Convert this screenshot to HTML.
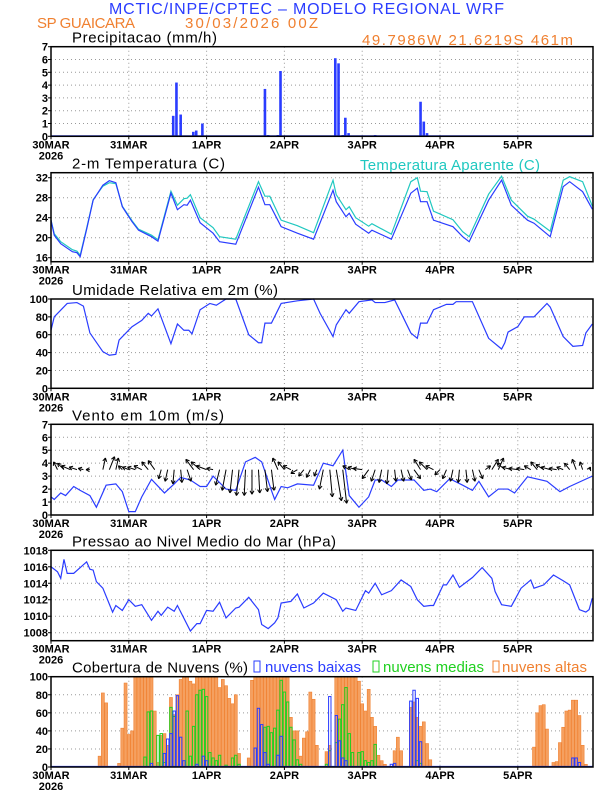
<!DOCTYPE html>
<html><head><meta charset="utf-8">
<style>
body{margin:0;background:#fff;}
svg{display:block;font-family:"Liberation Sans",sans-serif;}
.tk{font-family:"Liberation Sans Narrow","Liberation Sans",sans-serif;font-size:11px;fill:#000;font-weight:bold;}
.tt{font-size:15px;fill:#000;}
</style></head>
<body>
<svg id="chart" width="612" height="792" viewBox="0 0 612 792">
<text x="109" y="14" textLength="395" lengthAdjust="spacing" font-size="16" fill="#2a3cff">MCTIC/INPE/CPTEC – MODELO REGIONAL WRF</text>
<text x="37" y="28" textLength="98" lengthAdjust="spacing" font-size="15" fill="#f08030">SP GUAICARA</text>
<text x="185" y="28" textLength="133" lengthAdjust="spacing" font-size="15" fill="#f08030">30/03/2026 00Z</text>
<text x="362" y="45" textLength="211" lengthAdjust="spacing" font-size="15" fill="#f08030">49.7986W 21.6219S 461m</text>
<text x="360" y="170" textLength="180" lengthAdjust="spacing" font-size="15" fill="#20c8c0">Temperatura Aparente (C)</text>
</svg>
<script>
// ---- data ----
const dayLabels=["30MAR","31MAR","1APR","2APR","3APR","4APR","5APR"];
const precipHours=[37.7,38.7,40,43.9,44.8,46.7,66,67,70,70.8,87.7,88.7,90,90.8,91.8,100,114,115,116];
const precipVals=[1.6,4.2,1.7,0.35,0.45,1.0,3.7,0.1,0.1,5.1,6.1,5.7,0.1,1.45,0.25,0.1,2.7,1.15,0.25];
const tempHours=[0,1,3,6.6,8,9,11,13,16,18,20,22,25,27,31,33,37,39,41,42,43,46,50,52,57,64,66,67.5,71,76,81,87,88,91,92,94,98,99,105,111,113,114,116,118,124,127,129,135,139,142,147,149,154,158,160,164,167];
const tempVals=[23.5,20.5,18.8,17.2,17,16.2,21.7,27.5,30.5,31.4,31,26.2,23.2,21.5,20.2,19.3,28.9,25.6,26.6,26.5,27.5,23,20.9,19.2,18.7,30.1,26.6,26.6,22.2,20.9,19.7,29.5,27.2,24.2,24.9,22.7,20.9,21.5,19.7,28.9,29.9,27.2,27.2,23.5,22.2,20.2,19.2,27.5,31.5,26.5,23.5,22.9,20.2,30.2,31.2,29.2,25.7];
const tappVals=[23.5,20.8,19.2,17.6,17.3,16.5,21.9,27.6,30.3,31,30.8,26.3,23.4,21.7,20.5,19.6,29.3,26.5,27.8,27.9,28.6,24,22,20.2,19.7,31.2,28.3,28.3,23.5,22.4,21,31.5,28.6,25.6,26.2,24,22.3,22.8,20.7,31.2,32,29.3,29.2,25.3,23.6,21.2,20.2,28.7,32.3,27.5,24.3,23.7,21.3,31.5,32.2,31.2,26.3];
const rhHours=[0,1,5,8,10,12,16,18,20,21,25,28,30,31,33,37,39,41,42.5,43.5,46,49,51,54,57,61,64,65,66,68,71,76,81,83,87,88,91,92,95,99,100,103,106,111,113,114,116,118,122,124,125,130,135,139,140,141,144,146,149,153,154,158,161,164,165,167];
const rhVals=[65,80,95,96,92,62,41,37,38,54,69,76,84,81,89,50,72,65,65,61,88,95,93,100,100,60,51,51,73,73,95,98,100,84,58,71,88,84,97,99,96,96,99,62,56,73,73,88,94,94,97,97,56,44,51,63,69,80,80,95,91,58,47,48,62,72];
const windHours=[0,1,3,4.5,7,9,12,14,17,20,22,24,26,28,31,35,38,40,43,46,48,50,54,57,60,63,65,68,69,71,73,76,81,84,87,90,92,95,98,100,102,105,107,112,115,117,119,123,127,130,132,135,138,141,143,147,153,157,160,167];
const windVals=[1.4,1.2,1.7,1.5,2.2,1.9,1.5,0.6,2.3,2.4,1.8,0.26,0.26,1.4,2.75,1.7,2.4,2.9,2.7,2.2,2.2,3,2,1.9,4.1,4.45,4.1,1.9,1.2,2.2,2.1,2.4,2.3,4,3.8,5,1.5,0.6,1.4,2.7,2.7,2.2,2.7,2.7,1.9,2,1.8,2.8,2.3,1.9,2.6,1.4,2,2,1.7,2.95,2.6,1.8,2.2,3];
const arrowHours=[2,4,6,8,10,12,16,18,20,22,24,26,28,30,32,34,36,38,40,42,44,46,48,50,52,54,56,58,60,62,64,66,68,70,72,74,76,78,80,82,84,86,88,90,92,94,96,98,100,102,104,106,108,110,112,114,116,118,120,122,124,126,128,130,132,134,136,138,140,142,144,146,148,150,152,154,156,158,160,162,164,166];
const arrowU=[-0.3,-0.5,-0.7,-0.6,-0.4,-0.3,0.2,0.4,0.2,-0.3,-0.5,-0.6,-0.6,-0.5,-0.5,-0.2,-0.2,-0.1,0.1,0.3,-0.6,-0.7,-0.8,-0.5,-0.3,-0.3,-0.2,-0.2,-0.1,0,0.1,0.2,0.2,-0.4,-0.5,-0.6,-0.5,-0.4,-0.3,-0.2,-0.3,0.2,0.4,0.3,-0.5,-0.6,-0.7,-0.5,-0.3,-0.2,-0.1,0.1,0.2,0.3,0.5,-0.5,-0.6,-0.6,-0.4,-0.3,-0.2,-0.1,0.1,0.2,0.3,0.4,0.5,0.4,-0.6,-0.7,-0.7,-0.6,-0.5,-0.5,-0.6,-0.7,-0.6,-0.5,-0.4,-0.3,-0.2,0.1];
const arrowV=[0.6,0.5,0.3,0.2,0.1,0.0,0.9,1.0,0.9,0.3,0.2,0.2,0.3,0.6,0.7,-0.7,-0.9,-1.1,-1.0,-0.9,0.8,0.6,0.3,0.1,-1.2,-1.6,-1.8,-2.0,-2.0,-1.9,-1.8,-1.7,-1.6,0.9,0.6,0.3,-0.3,-0.5,-0.6,-0.5,-1.5,-2.1,-2.4,-2.6,0.3,0.2,0.1,-0.7,-0.9,-1.0,-1.1,-0.9,-0.9,-0.8,-0.7,0.8,0.6,0.3,-0.4,-0.7,-0.9,-1.0,-1.0,-0.9,-0.7,0.3,0.8,0.9,0.5,0.2,0.1,0.1,0.3,0.6,0.4,0.2,0.1,0.2,0.5,0.8,0.6,0.2];
const presHours=[0,2,3,4,5,7,11,12,13,14,16,19,20,22,24,26,28,31,33,34,36,38,39,43,45,46,48,50,52,54,57,58,61,64,65,67,69,70,71,74,76,78,81,84,88,90,91,94,97,98,100,102,105,108,111,113,115,117,118,121,122,124,126,130,133,136,137,139,142,145,148,149,152,155,158,160,163,165,166,167];
const presVals=[1016,1015.4,1014.6,1016.9,1015.2,1015.2,1016.6,1015.7,1015.6,1014.2,1013.4,1010.5,1011.3,1010.7,1012,1011.2,1011.4,1009.5,1010.6,1010.1,1011.1,1010.6,1011.3,1008.2,1009.1,1009.1,1010.7,1010.6,1011.7,1009.8,1011,1011.1,1012.3,1010.8,1009,1008.5,1009.2,1009.8,1011.6,1011.8,1012.7,1011,1011.6,1012.8,1012,1010.6,1011,1010.7,1013.1,1012.8,1014,1012.6,1013.1,1014.4,1013.6,1012,1011.2,1011.3,1011.3,1013.8,1013.8,1015,1013.5,1014.7,1015.9,1014.6,1013,1011.4,1011.2,1013.4,1014.4,1013.4,1013.8,1015,1014.3,1013.8,1010.8,1010.5,1010.8,1012.2];
const highHours=[15,16,17,21,22,23,24,25,26,27,28,29,30,31,32,33,34,35,36,37,38,39,40,41,42,43,44,45,46,47,48,49,50,51,52,53,54,55,56,57,58,61,62,63,64,65,66,67,68,69,70,71,72,73,74,75,76,77,78,79,80,81,82,85,86,88,89,90,91,92,93,94,95,96,97,98,99,100,101,102,103,106,107,108,111,112,113,114,115,116,117,149,150,151,152,153,155,156,157,158,159,160,161,162,163,164,165];
const highVals=[12,82,71,4,43,93,36,40,100,100,100,100,100,100,62,5,35,37,24,77,58,80,97,100,100,95,92,100,100,100,100,100,100,100,88,97,90,76,70,80,15,10,96,100,100,100,100,100,100,100,100,100,100,100,55,40,40,12,32,39,83,75,24,17,24,100,100,100,100,100,100,100,95,70,62,86,55,45,13,7,3,18,33,18,66,72,55,45,50,26,8,22,60,68,69,42,5,6,27,44,62,63,74,74,57,24,3];
const lowHours=[31,35,36,37,38,39,40,41,45,47,48,63,64,65,66,67,70,71,86,88,89,90,91,105,106,111,112,113,114,161,162,163];
const lowVals=[4,15,31,37,62,79,33,7,3,12,7,21,65,47,16,3,13,34,78,57,29,10,7,3,4,73,85,76,28,10,10,5];
const midHours=[29,30,31,33,34,35,37,38,42,43,44,45,46,47,48,49,50,51,52,54,56,57,58,66,67,68,69,70,71,72,73,74,75,76,77,85,86,88,89,90,91,92,93,95,96,97,98,99,100,113,114];
const midVals=[11,61,62,35,37,5,66,56,62,12,45,80,85,86,78,16,10,7,13,2,10,13,3,44,45,38,43,63,96,83,72,44,30,8,3,3,18,27,53,69,88,37,16,16,17,7,5,7,25,7,4];
// ---- layout ----
const X0=51,X1=593,HMAX=167.2;
const xs=h=>X0+(X1-X0)*h/HMAX;
const svg=document.getElementById('chart');
const NS='http://www.w3.org/2000/svg';
function mk(tag,attrs,parent){const e=document.createElementNS(NS,tag);for(const k in attrs)e.setAttribute(k,attrs[k]);(parent||svg).appendChild(e);return e;}
function panel(id,top,bot,vmin,vmax,ticks,title,tlen){
  const g=mk('g',{});
  
  
  const ys=v=>bot-(v-vmin)/(vmax-vmin)*(bot-top);
  for(let d=1;d<7;d++){const gl=mk('line',{x1:xs(d*24),x2:xs(d*24),y1:top,y2:bot,stroke:'#999','stroke-dasharray':'1,3'},g);
    }
  ticks.forEach(t=>{
    if(t>vmin&&t<vmax){const gl=mk('line',{x1:X0,x2:X1,y1:ys(t),y2:ys(t),stroke:'#999','stroke-dasharray':'1,3'},g);
      }
    const tl=mk('text',{x:X0-3,y:ys(t)+4,'text-anchor':'end',class:'tk'},g);tl.textContent=t;
    
    mk('line',{x1:X0-3,x2:X0,y1:ys(t),y2:ys(t),stroke:'#000'},g);
  });
  dayLabels.forEach((l,i)=>{const t=mk('text',{x:xs(i*24),y:bot+12,'text-anchor':'middle',class:'tk'},g);t.textContent=l;
    
    mk('line',{x1:xs(i*24),x2:xs(i*24),y1:bot,y2:bot+3,stroke:'#000'},g);});
  const yr=mk('text',{x:xs(0),y:bot+23,'text-anchor':'middle',class:'tk'},g);yr.textContent='2026';
  
  const tt=mk('text',{x:72,y:top-4,class:'tt',textLength:tlen,lengthAdjust:'spacing'},g);tt.textContent=title;
  
  return {g,ys,finish:()=>{const b=mk('rect',{x:X0,y:top,width:X1-X0,height:bot-top,fill:'none',stroke:'#000','stroke-width':1.5},g);
    }};
}
function line(p,hs,vs,color,name){const pl=mk('polyline',{points:hs.map((h,i)=>xs(h)+','+p.ys(vs[i])).join(' '),fill:'none',stroke:color,'stroke-width':1.2},p.g);
  }
// precip
let p=panel('precip',46.7,136.3,0,7,[0,1,2,3,4,5,6,7],'Precipitacao (mm/h)',145);
precipHours.forEach((h,i)=>{const r=mk('rect',{x:xs(h)-1.3,y:p.ys(precipVals[i]),width:2.6,height:p.ys(0)-p.ys(precipVals[i]),fill:'#2a3cff'},p.g);
  });
mk('line',{x1:X0,x2:X1,y1:p.ys(0)-0.5,y2:p.ys(0)-0.5,stroke:'#2a3cff','stroke-width':1},p.g);
p.finish();
// temp
p=panel('temp',172.7,261.7,15.2,33,[16,20,24,28,32],'2-m Temperatura (C)',153);
line(p,tempHours,tappVals,'#20c8c0','apparent-temp-line');
line(p,tempHours,tempVals,'#2a3cff','temp-line');
p.finish();
// rh
p=panel('rh',299,388.3,0,100,[0,20,40,60,80,100],'Umidade Relativa em 2m (%)',206);
line(p,rhHours,rhVals,'#2a3cff','rh-line');
p.finish();
// wind
p=panel('wind',424.3,515,0,7,[0,1,2,3,4,5,6,7],'Vento em 10m (m/s)',152);
line(p,windHours,windVals,'#2a3cff','wind-speed-line');
{const unit=(p.ys(0)-p.ys(1));
arrowHours.forEach((h,i)=>{const x0=xs(h),y0=p.ys(3.5),x1=x0+arrowU[i]*unit,y1=y0-arrowV[i]*unit;
  const a=mk('g',{},p.g);
  mk('line',{x1:x0,y1:y0,x2:x1,y2:y1,stroke:'#000','stroke-width':1},a);
  const ang=Math.atan2(y1-y0,x1-x0);
  [2.6,-2.6].forEach(s=>mk('line',{x1:x1,y1:y1,x2:x1-4*Math.cos(ang+s*0.2),y2:y1-4*Math.sin(ang+s*0.2),stroke:'#000','stroke-width':1},a));
});}
p.finish();
// pressure
p=panel('pressure',550.3,640.7,1007.03,1018,[1008,1010,1012,1014,1016,1018],'Pressao ao Nivel Medio do Mar (hPa)',264);
line(p,presHours,presVals,'#2a3cff','pressure-line');
p.finish();
// clouds
p=panel('clouds',676.7,767,0,100,[0,20,40,60,80,100],'Cobertura de Nuvens (%)',176);
highHours.forEach((h,i)=>{const r=mk('rect',{x:xs(h)-1.5,y:p.ys(highVals[i]),width:3,height:p.ys(0)-p.ys(highVals[i]),fill:'#f5a060',stroke:'#f08030','stroke-width':0.6},p.g);
  });
midHours.forEach((h,i)=>{const r=mk('rect',{x:xs(h)-1.2,y:p.ys(midVals[i]),width:2.4,height:p.ys(0)-p.ys(midVals[i]),fill:'none',stroke:'#20d020','stroke-width':1},p.g);
  });
lowHours.forEach((h,i)=>{const r=mk('rect',{x:xs(h)-1.2,y:p.ys(lowVals[i]),width:2.4,height:p.ys(0)-p.ys(lowVals[i]),fill:'none',stroke:'#2a3cff','stroke-width':1},p.g);
  });
mk('line',{x1:X0,x2:X1,y1:p.ys(0)-0.5,y2:p.ys(0)-0.5,stroke:'#2a3cff','stroke-width':1.2},p.g);
p.finish();
[['nuvens baixas','#2a3cff',254,265,96,'legend-low'],['nuvens medias','#20d020',373,383,101,'legend-mid'],['nuvens altas','#f08030',493,502,85,'legend-high']].forEach(l=>{
  const g=mk('g',{});
  mk('rect',{x:l[2],y:661,width:6,height:11,fill:'none',stroke:l[1],'stroke-width':1},g);
  const t=mk('text',{x:l[3],y:672,'font-size':15,textLength:l[4],lengthAdjust:'spacing',fill:l[1]},g);t.textContent=l[0];
});
</script>
</body></html>
